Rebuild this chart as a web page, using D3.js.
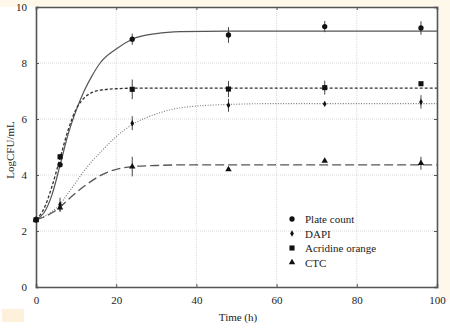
<!DOCTYPE html>
<html>
<head>
<meta charset="utf-8">
<script src="https://cdn.jsdelivr.net/npm/d3@7.8.5/dist/d3.min.js"></script>
<style>
  html, body { margin: 0; padding: 0; background: #ffffff; }
  svg { display: block; }
  text { font-family: "Liberation Serif", "DejaVu Serif", serif; fill: #222; }
</style>
</head>
<body>
<svg id="chart" width="450" height="329"></svg>
<script>
// sampling times and measured means (log CFU/mL)
const times = [0, 6, 24, 48, 72, 96];
const plateCount = [2.4, 4.37, 8.85, 9.0, 9.3, 9.25];
const plateCountErr = [0, 0.1, 0.2, 0.28, 0.2, 0.24];
const dapi = [2.4, 2.95, 5.85, 6.49, 6.54, 6.61];
const dapiErr = [0, 0.24, 0.25, 0.23, 0, 0.24];
const acridine = [2.4, 4.65, 7.06, 7.07, 7.12, 7.26];
const acridineErr = [0, 0.1, 0.35, 0.29, 0.25, 0];
const ctc = [2.4, 2.83, 4.3, 4.2, 4.5, 4.42];
const ctcErr = [0, 0.15, 0.35, 0, 0, 0.23];

// fitted growth curves
const fitTimes = [0, 2, 4, 6, 8, 10, 12, 14, 16, 20, 24, 30, 36, 48, 60, 100];
const plateFit = [2.4, 2.65, 3.3, 4.35, 5.45, 6.3, 7.0, 7.55, 8.0, 8.5, 8.85, 9.05, 9.12, 9.14, 9.14, 9.14];
const acridineFit = [2.4, 2.8, 3.6, 4.6, 5.6, 6.35, 6.75, 6.95, 7.03, 7.08, 7.1, 7.1, 7.1, 7.1, 7.1, 7.1];
const dapiFit = [2.4, 2.52, 2.7, 2.95, 3.35, 3.75, 4.15, 4.5, 4.8, 5.37, 5.8, 6.18, 6.4, 6.52, 6.55, 6.55];
const ctcFit = [2.4, 2.5, 2.65, 2.85, 3.12, 3.37, 3.6, 3.8, 3.98, 4.2, 4.3, 4.34, 4.36, 4.36, 4.36, 4.36];

const xTicks = [0, 20, 40, 60, 80, 100];
const yTicks = [0, 2, 4, 6, 8, 10];
const legendLabels = ['Plate count', 'DAPI', 'Acridine orange', 'CTC'];

const svg = d3.select('#chart');
const W = 450, H = 329;
const plot = { left: 36, right: 437, top: 7, bottom: 287 };

const x = d3.scaleLinear().domain([0, 100]).range([plot.left, plot.right]);
const y = d3.scaleLinear().domain([0, 10]).range([plot.bottom, plot.top]);

// faint scan tint around the frame
svg.append('rect').attr('x', 0).attr('y', 0).attr('width', W).attr('height', plot.top)
    .attr('fill', '#fdf8ea');
svg.append('rect').attr('x', plot.right + 2).attr('y', 0).attr('width', W - plot.right - 2).attr('height', 300)
    .attr('fill', '#fdf8ea');
svg.append('rect').attr('x', 2).attr('y', 309).attr('width', 22).attr('height', 13)
    .attr('fill', '#fdf1dc');

// grid
const grid = svg.append('g').attr('stroke', '#d9d9d9').attr('stroke-width', 1).attr('stroke-dasharray', '1,1');
grid.selectAll('line.vx').data(xTicks.slice(1, -1)).enter().append('line')
    .attr('x1', d => x(d)).attr('x2', d => x(d))
    .attr('y1', plot.top).attr('y2', plot.bottom);
grid.selectAll('line.hy').data(yTicks.slice(1, -1)).enter().append('line')
    .attr('y1', d => y(d)).attr('y2', d => y(d))
    .attr('x1', plot.left).attr('x2', plot.right);

// axes with inward ticks on all four sides
const axisColor = '#555';
const bottomAxis = svg.append('g').attr('transform', `translate(0,${plot.bottom})`)
    .call(d3.axisBottom(x).tickValues(xTicks).tickSize(-3).tickPadding(9).tickFormat(d3.format('d')));
const leftAxis = svg.append('g').attr('transform', `translate(${plot.left},0)`)
    .call(d3.axisLeft(y).tickValues(yTicks).tickSize(-3).tickPadding(9).tickFormat(d3.format('d')));
const topAxis = svg.append('g').attr('transform', `translate(0,${plot.top})`)
    .call(d3.axisTop(x).tickValues(xTicks).tickSize(-3).tickFormat(''));
const rightAxis = svg.append('g').attr('transform', `translate(${plot.right},0)`)
    .call(d3.axisRight(y).tickValues(yTicks).tickSize(-3).tickFormat(''));

[bottomAxis, leftAxis, topAxis, rightAxis].forEach(a => {
    a.select('.domain').attr('stroke', axisColor).attr('stroke-width', 1.6);
    a.selectAll('.tick line').attr('stroke', axisColor).attr('stroke-width', 1);
    a.selectAll('.tick text')
        .attr('font-family', '"Liberation Serif", serif')
        .attr('font-size', 11)
        .attr('fill', '#222');
});

// fitted curves
const series = [
    { fit: plateFit, dash: null, color: '#555', width: 1.2 },
    { fit: dapiFit, dash: '1,1.6', color: '#777', width: 1.1 },
    { fit: acridineFit, dash: '3,2', color: '#333', width: 1.3 },
    { fit: ctcFit, dash: '9,4', color: '#555', width: 1.3 }
];
const line = d3.line().x(d => x(d[0])).y(d => y(d[1])).curve(d3.curveMonotoneX);
series.forEach(s => {
    svg.append('path')
        .datum(fitTimes.map((t, i) => [t, s.fit[i]]))
        .attr('d', line)
        .attr('fill', 'none')
        .attr('stroke', s.color)
        .attr('stroke-width', s.width)
        .attr('stroke-dasharray', s.dash);
});

// error bars
const errSets = [
    [plateCount, plateCountErr],
    [dapi, dapiErr],
    [acridine, acridineErr],
    [ctc, ctcErr]
];
const errG = svg.append('g').attr('stroke', '#444').attr('stroke-width', 1);
errSets.forEach(([vals, errs]) => {
    times.forEach((t, i) => {
        if (!errs[i]) return;
        errG.append('line')
            .attr('x1', x(t)).attr('x2', x(t))
            .attr('y1', y(vals[i] - errs[i])).attr('y2', y(vals[i] + errs[i]));
    });
});

// markers
const symCircle = d3.symbol().type(d3.symbolCircle).size(22);
const symDiamond = d3.symbol().type(d3.symbolDiamond).size(12);
const symSquare = d3.symbol().type(d3.symbolSquare).size(26);
const symTriangle = d3.symbol().type(d3.symbolTriangle).size(18);
const markerSets = [
    [plateCount, symCircle],
    [dapi, symDiamond],
    [acridine, symSquare],
    [ctc, symTriangle]
];
const markG = svg.append('g').attr('fill', '#111');
markerSets.forEach(([vals, sym]) => {
    markG.selectAll(null).data(times).enter().append('path')
        .attr('d', sym)
        .attr('transform', (t, i) => `translate(${x(t)},${y(vals[i])})`);
});

// legend
const legend = svg.append('g').attr('transform', 'translate(292,219)');
const legendSyms = [symCircle, symDiamond, symSquare, symTriangle];
legendLabels.forEach((label, i) => {
    const row = legend.append('g').attr('transform', `translate(0,${i * 14.5})`);
    row.append('path').attr('d', legendSyms[i]).attr('fill', '#111');
    row.append('text')
        .attr('x', 13).attr('y', 4)
        .attr('font-size', 11)
        .text(label);
});

// axis titles
svg.append('text')
    .attr('x', 238).attr('y', 321)
    .attr('text-anchor', 'middle')
    .attr('font-size', 11)
    .text('Time (h)');
svg.append('text')
    .attr('transform', 'translate(14,150) rotate(-90)')
    .attr('text-anchor', 'middle')
    .attr('font-size', 11)
    .text('LogCFU/mL');
</script>
</body>
</html>
